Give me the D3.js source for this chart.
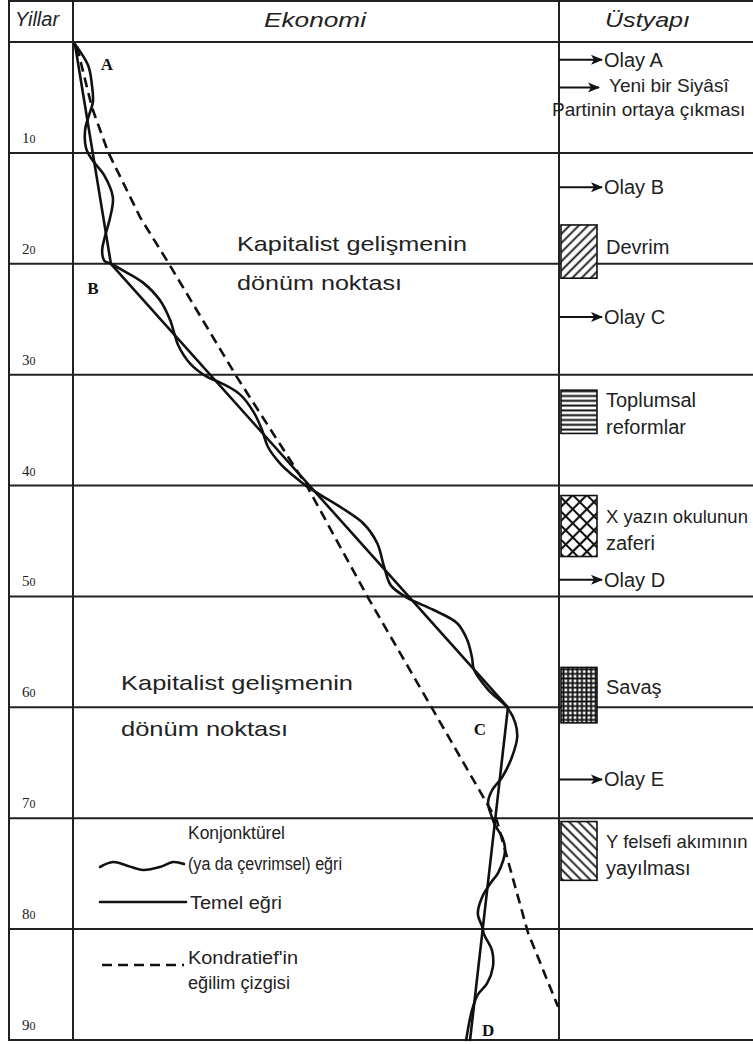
<!DOCTYPE html>
<html lang="tr">
<head>
<meta charset="UTF-8">
<title>Kondratieff dalgaları</title>
<script src="https://d3js.org/d3.v7.min.js"></script>
<style>
  body { margin: 0; background: #fff; }
  svg { display: block; }
  .grid { stroke: #222; stroke-width: 2; }
  .curve { fill: none; stroke: #111; stroke-width: 2.6; stroke-linejoin: round; stroke-linecap: round; }
  .trend { fill: none; stroke: #111; stroke-width: 2.6; stroke-dasharray: 10,6; }
  .head { font-family: "Liberation Sans", Arial, sans-serif; font-style: italic; font-size: 21px; fill: #222; }
  .note { font-family: "Liberation Sans", Arial, sans-serif; font-size: 20px; fill: #222; }
  .legend { font-family: "Liberation Sans", Arial, sans-serif; font-size: 18px; fill: #222; }
  .big { font-family: "Liberation Sans", Arial, sans-serif; font-size: 21px; fill: #222; }
  .year { font-family: "Liberation Serif", serif; font-size: 15px; fill: #222; }
  .pt { font-family: "Liberation Serif", serif; font-weight: bold; font-size: 17px; fill: #111; }
</style>
</head>
<body>
<svg width="753" height="1044"></svg>
<script>
// decade rows (years since start)
const decades = [0, 10, 20, 30, 40, 50, 60, 70, 80, 90];
const yearLabels = ["10", "20", "30", "40", "50", "60", "70", "80", "90"];

// basic curve (Temel eğri): A, B, C, D
const basicYears = [0.2, 20, 60, 90];
const basicLevels = [0.4, 7.8, 89.5, 81.7];
const pointNames = ["A", "B", "C", "D"];

// conjunctural / cyclical curve
const cycleYears = [0.2, 2.1, 3.9, 5.4, 6.6, 7.9, 9.6, 10.6, 12.0, 14.0,
  15.9, 17.5, 18.8, 19.7, 20.0, 20.7, 21.7, 23.3, 25.1, 26.2,
  27.3, 29.0, 30.2, 30.8, 31.8, 33.4, 35.0, 36.5, 38.0, 39.1,
  40.1, 41.9, 43.4, 45.2, 47.3, 49.0, 50.1, 51.2, 52.4, 53.9,
  55.5, 56.6, 58.4, 60.1, 61.4, 62.7, 64.5, 66.3, 67.5, 68.6,
  69.9, 70.6, 71.7, 72.9, 74.9, 75.8, 77.1, 78.6, 79.8, 80.5,
  81.9, 83.4, 84.9, 85.9, 87.3, 90.0];
const cycleLevels = [0.4, 3.1, 3.9, 4.1, 3.3, 2.5, 2.7, 3.9, 6.4, 8.2,
  7.6, 6.6, 6.0, 6.4, 7.8, 10.7, 14.4, 17.9, 20.0, 20.8,
  21.6, 24.1, 27.6, 30.7, 34.4, 37.2, 38.9, 40.1, 42.6, 45.3,
  48.2, 54.9, 59.7, 62.6, 64.0, 65.4, 68.7, 74.1, 79.0, 81.1,
  82.1, 82.5, 85.4, 89.5, 91.0, 91.4, 90.3, 88.3, 86.2, 85.4,
  86.2, 86.8, 88.3, 88.9, 87.5, 86.0, 84.2, 83.3, 84.2, 84.6,
  86.2, 86.4, 85.2, 83.3, 82.1, 80.9];

// Kondratief trend line
const trendYears = [0.4, 5.9, 9.9, 15.8, 19.9, 30.2, 40.1, 50.1, 60.1, 70.2, 80.3, 87.0];
const trendLevels = [0.8, 3.9, 7.2, 13.8, 19.6, 33.7, 48.2, 60.7, 73.9, 87.2, 93.6, 99.8];

// superstructure: single events (arrows)
const eventLabels = ["Olay A", "Yeni bir Siyâsî", "Olay B", "Olay C", "Olay D", "Olay E"];
const eventYears = [1.6, 4.1, 13.1, 24.8, 48.5, 66.5];

// superstructure: periods (hatched boxes)
const periodLabels = [["Devrim"], ["Toplumsal", "reformlar"], ["X yazın okulunun", "zaferi"], ["Savaş"], ["Y felsefi akımının", "yayılması"]];
const periodStart = [16.5, 31.4, 40.9, 56.4, 70.3];
const periodEnd = [21.3, 35.3, 46.4, 61.4, 75.6];
const periodHatch = ["hatch-up", "hatch-h", "hatch-x", "hatch-grid", "hatch-down"];

const svg = d3.select("svg");
const W = +svg.attr("width");
const leftEdge = 9, yearCol = 73, econRight = 559;

const y = d3.scaleLinear().domain([0, 90]).range([42, 1040]);
const x = d3.scaleLinear().domain([0, 100]).range([yearCol, econRight]);

// patterns
const defs = svg.append("defs");
function makePattern(id, size, angle, d, sw) {
  const p = defs.append("pattern").attr("id", id)
    .attr("patternUnits", "userSpaceOnUse")
    .attr("width", size).attr("height", size)
    .attr("patternTransform", `rotate(${angle})`);
  p.append("rect").attr("width", size).attr("height", size).attr("fill", "#fff");
  p.append("path").attr("d", d(size)).attr("stroke", "#111").attr("stroke-width", sw).attr("fill", "none");
}
makePattern("hatch-up", 6.5, 45, s => `M${s / 2},0V${s}`, 1.8);
makePattern("hatch-h", 4.8, 0, s => `M0,${s / 2}H${s}`, 2);
makePattern("hatch-x", 10, 45, s => `M${s / 2},0V${s}M0,${s / 2}H${s}`, 2.2);
makePattern("hatch-grid", 4.6, 0, s => `M${s / 2},0V${s}M0,${s / 2}H${s}`, 1.9);
makePattern("hatch-down", 6.5, -45, s => `M${s / 2},0V${s}`, 1.8);

defs.append("marker").attr("id", "arrow")
  .attr("viewBox", "0 0 12 10").attr("refX", 11).attr("refY", 5)
  .attr("markerUnits", "userSpaceOnUse")
  .attr("markerWidth", 13).attr("markerHeight", 10).attr("orient", "auto")
  .append("path").attr("d", "M0,0 L12,5 L0,10 L3,5 Z").attr("fill", "#111");

// grid
const grid = svg.append("g");
grid.selectAll("line.h").data(decades).join("line")
  .attr("class", "grid h")
  .attr("x1", leftEdge).attr("x2", W)
  .attr("y1", d => y(d)).attr("y2", d => y(d));
grid.append("line").attr("class", "grid").attr("x1", leftEdge).attr("x2", W).attr("y1", 1).attr("y2", 1);
grid.selectAll("line.v").data([leftEdge, yearCol, econRight]).join("line")
  .attr("class", "grid v")
  .attr("x1", d => d).attr("x2", d => d)
  .attr("y1", 0).attr("y2", y(90) + 1);

// headers
svg.append("text").attr("class", "head").attr("x", 15).attr("y", 26).style("font-size", "20px").text("Yillar");
svg.append("text").attr("class", "head").attr("x", 264).attr("y", 27)
  .attr("textLength", 102).attr("lengthAdjust", "spacingAndGlyphs").text("Ekonomi");
svg.append("text").attr("class", "head").attr("x", 605).attr("y", 27)
  .attr("textLength", 85).attr("lengthAdjust", "spacingAndGlyphs").text("Üstyapı");

// year labels (small second digit imitates old-style figures)
const yl = svg.append("g").selectAll("text").data(yearLabels).join("text")
  .attr("class", "year")
  .attr("x", 22)
  .attr("y", (d, i) => y(decades[i + 1]) - 10);
yl.append("tspan").text(d => d[0]);
yl.append("tspan").attr("font-size", 12).text(d => d.slice(1));

// curves
const line = (ys, ls, curve) => d3.line()
  .x((d, i) => x(ls[i]))
  .y(d => y(d))
  .curve(curve)(ys);

svg.append("path").attr("class", "trend").attr("d", line(trendYears, trendLevels, d3.curveLinear));
svg.append("path").attr("class", "curve").attr("d", line(basicYears, basicLevels, d3.curveLinear));
svg.append("path").attr("class", "curve").attr("d", line(cycleYears, cycleLevels, d3.curveCatmullRom.alpha(0.5)));

// point letters
const ptOffset = [[32, 26], [-18, 30], [-28, 28], [18, -4]];
svg.append("g").selectAll("text").data(pointNames).join("text")
  .attr("class", "pt").attr("text-anchor", "middle")
  .attr("x", (d, i) => x(basicLevels[i]) + ptOffset[i][0])
  .attr("y", (d, i) => y(basicYears[i]) + ptOffset[i][1])
  .text(d => d);

// turning point notes
const notes = [[237, 251], [237, 290], [121, 690], [121, 736]];
const noteText = ["Kapitalist gelişmenin", "dönüm noktası", "Kapitalist gelişmenin", "dönüm noktası"];
const noteLen = [230, 165, 232, 167];
svg.append("g").selectAll("text").data(noteText).join("text")
  .attr("class", "big")
  .attr("x", (d, i) => notes[i][0]).attr("y", (d, i) => notes[i][1])
  .attr("textLength", (d, i) => noteLen[i]).attr("lengthAdjust", "spacingAndGlyphs")
  .text(d => d);

// legend
const lg = svg.append("g");
lg.append("path").attr("class", "curve").attr("stroke-width", 2.4)
  .attr("d", d3.line().curve(d3.curveCatmullRom)([[100, 867], [113, 862], [128, 866], [143, 870], [160, 867], [173, 862], [184, 864]]));
lg.append("line").attr("class", "curve").attr("stroke-width", 2.4).attr("x1", 100).attr("x2", 186).attr("y1", 902).attr("y2", 902);
lg.append("line").attr("class", "trend").attr("stroke-width", 2.4).attr("stroke-dasharray", "12,5").attr("x1", 102).attr("x2", 184).attr("y1", 965).attr("y2", 965);
const legendText = [["Konjonktürel", 188, 839, 97], ["(ya da çevrimsel) eğri", 188, 870, 154],
  ["Temel eğri", 190, 909, 92], ["Kondratief'in", 188, 964, 110], ["eğilim çizgisi", 188, 989, 102]];
lg.selectAll("text").data(legendText).join("text")
  .attr("class", "legend")
  .attr("x", d => d[1]).attr("y", d => d[2])
  .attr("textLength", d => d[3]).attr("lengthAdjust", "spacingAndGlyphs")
  .text(d => d[0]);

// superstructure events
const ev = svg.append("g");
ev.selectAll("line").data(eventYears).join("line")
  .attr("x1", econRight).attr("x2", (d, i) => i === 1 ? 599 : 602)
  .attr("y1", d => y(d)).attr("y2", d => y(d))
  .attr("stroke", "#111").attr("stroke-width", 2)
  .attr("marker-end", "url(#arrow)");
ev.selectAll("text").data(eventLabels).join("text")
  .attr("class", "note")
  .style("font-size", (d, i) => i === 1 ? "19px" : null)
  .attr("x", (d, i) => i === 1 ? 609 : 604)
  .attr("y", (d, i) => y(eventYears[i]) + (i === 1 ? 5 : 7))
  .text(d => d);
svg.append("text").attr("class", "note").style("font-size", "19px")
  .attr("x", 552).attr("y", y(6.0) + 7)
  .text("Partinin ortaya çıkması");

// superstructure periods
const labelShift = [29, 17, 27, 27, 26];
const labelSize = [[20], [20, 20], [18.5, 20], [20], [18.5, 20]];
const pr = svg.append("g");
pr.selectAll("rect").data(periodStart).join("rect")
  .attr("x", 561).attr("width", 36)
  .attr("y", d => y(d))
  .attr("height", (d, i) => y(periodEnd[i]) - y(d))
  .attr("fill", (d, i) => `url(#${periodHatch[i]})`)
  .attr("stroke", "#111").attr("stroke-width", 1.6);
periodLabels.forEach((lines, i) => {
  const top = y(periodStart[i]);
  lines.forEach((t, j) => {
    pr.append("text").attr("class", "note")
      .style("font-size", labelSize[i][j] + "px")
      .attr("x", 606)
      .attr("y", top + labelShift[i] + j * 27)
      .text(t);
  });
});
</script>
</body>
</html>
